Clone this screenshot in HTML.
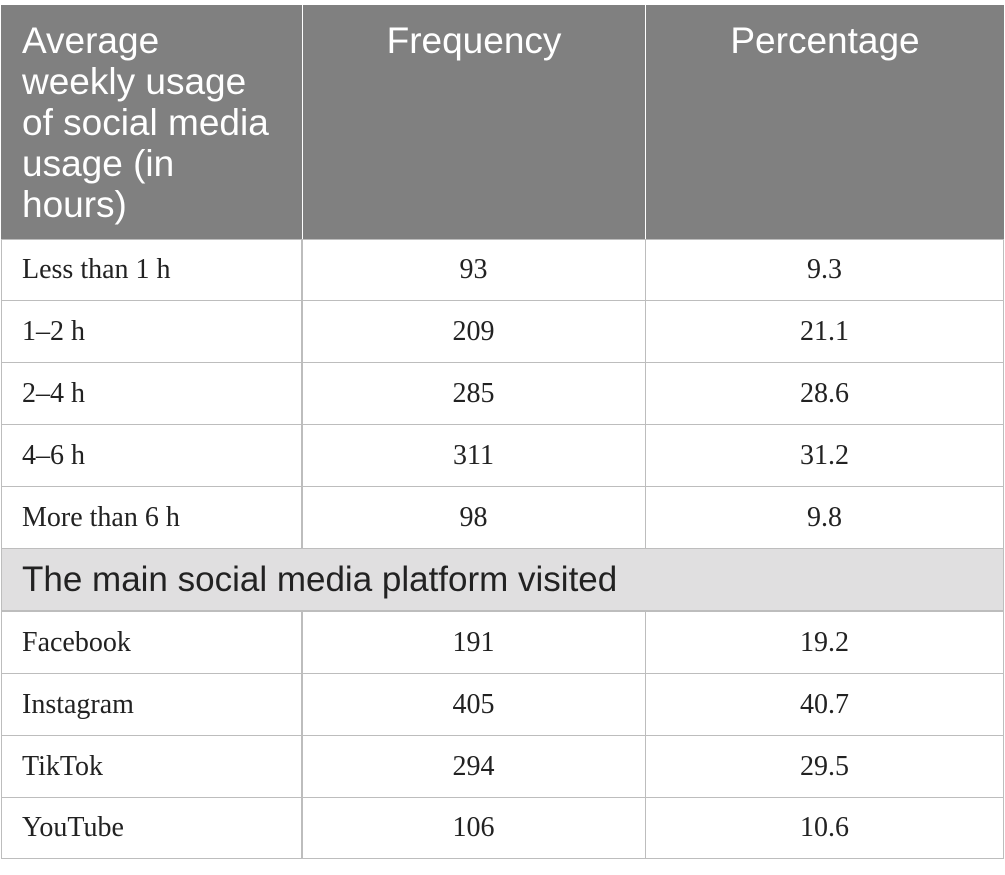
<!DOCTYPE html>
<html><head><meta charset="utf-8"><style>
body{margin:0;width:1005px;height:875px;background:#fff;position:relative;overflow:hidden}
.c{position:absolute;box-sizing:border-box}
.h{background:#808080;color:#fff;font-family:"Liberation Sans",sans-serif;font-size:37px;line-height:41px;padding:15px 0 0 21px;white-space:nowrap}
.b{font-family:"Liberation Serif",serif;font-size:28px;color:#222;border:1px solid #bdbdbd;display:flex;align-items:center;padding-left:20px}
.n{justify-content:center;padding-left:0}
.s{position:absolute;left:1px;width:1003px;top:548px;height:63px;background:#e0dfe0;border:1px solid #bdbdbd;box-sizing:border-box;font-family:"Liberation Sans",sans-serif;font-size:35px;color:#222;display:flex;align-items:center;padding-left:20px;white-space:nowrap}
</style></head><body>
<div>
<div class="c h" style="left:1px;top:5px;width:301px;height:234px">Average<br>weekly usage<br>of social media<br>usage (in<br>hours)</div>
<div class="c h" style="left:303px;top:5px;width:342px;height:234px;text-align:center;padding-left:0">Frequency</div>
<div class="c h" style="left:646px;top:5px;width:358px;height:234px;text-align:center;padding-left:0">Percentage</div>
<div id="rows"></div>
<div class="s">The main social media platform visited</div>
</div>
<script>
const labels=["Less than 1 h","1–2 h","2–4 h","4–6 h","More than 6 h","Facebook","Instagram","TikTok","YouTube"];
const freqs=["93","209","285","311","98","191","405","294","106"];
const pcts=["9.3","21.1","28.6","31.2","9.8","19.2","40.7","29.5","10.6"];
const tops=[239,300,362,424,486,611,673,735,797];
const root=document.getElementById('rows');
labels.forEach((l,i)=>{
 const t=tops[i],h=(i===8?858:(tops[i+1]===611?548:tops[i+1]))-t+1;
 [[l,1,302,''],[freqs[i],301,345,' n'],[pcts[i],645,359,' n']].forEach((c,j)=>{
  const d=document.createElement('div');
  d.className='c b'+c[3];
  d.style.cssText=`left:${c[1]}px;top:${t}px;width:${c[2]}px;height:${h}px`;
  d.textContent=c[0];
  
  
  root.appendChild(d);
 });
});
</script>
</body></html>
